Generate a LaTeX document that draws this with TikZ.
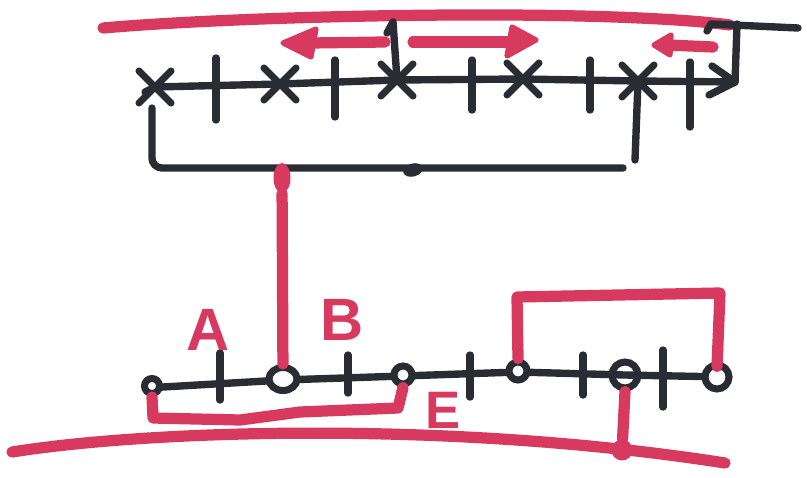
\documentclass[tikz,border=0pt]{standalone}
\usepackage{fontspec}
\setmainfont{Liberation Sans}
\usetikzlibrary{shapes.misc,shapes.geometric}
\definecolor{SKRed}{HTML}{D8395E}
\definecolor{SKInk}{HTML}{2A2C33}

\begin{document}
\begin{tikzpicture}[x=0.2mm,y=-0.2mm,
  ink/.style={draw=SKInk,line width=4.2pt,line cap=round,line join=round},
  pen/.style={draw=SKRed,line width=6.4pt,line cap=round,line join=round},
  head/.style={fill=SKRed,draw=SKRed,line width=3pt,line join=round},
  xmark/.style={draw=SKInk,cross out,line width=4pt,line cap=round,minimum size=5mm,inner sep=0pt},
  ring/.style={draw=SKInk,circle,line width=4pt,fill=white,inner sep=0pt},
  blob/.style={fill=SKRed,ellipse,inner sep=0pt,minimum width=3.4mm,minimum height=6mm},
  inkdot/.style={fill=SKInk,ellipse,inner sep=0pt,minimum width=4mm,minimum height=2.6mm,rotate=15},
  reddot/.style={fill=SKRed,circle,inner sep=0pt,minimum size=4.2mm},
  lbl/.style={text=SKRed,font=\fontsize{34}{34}\selectfont\bfseries,inner sep=0pt}]
\path[use as bounding box] (0,0) rectangle (807,477);
\draw[pen] (103,28) .. controls (250,15) and (600,8) .. (730,25);
\draw[pen] (12,452) .. controls (150,430) and (450,420) .. (725,463);
\coordinate (tip) at (735,82);
\coordinate (bl) at (152,108);
\coordinate (br) at (623,168);
\coordinate (bd) at (635,160);
\node[xmark] (x1) at (155,87) {};
\node[xmark] (x2) at (280,84) {};
\node[xmark] (x3) at (397,80) {};
\node[xmark] (x4) at (523,79) {};
\node[xmark] (x5) at (638,81) {};
\draw[ink] (145,92) -- (x1.center) -- (x2.center) -- (x3.center) -- (x4.center) -- (x5.center) -- (tip);
\draw[ink] (712,66) -- (tip) -- (709,95);
\draw[ink] (707,31) -- (711,24) -- (798,28);
\draw[ink] (737,24) -- (tip);
\draw[ink] (387,33) -- (393,22) -- (x3.center);
\foreach \x/\a/\b in {216/58/120,335/60/117,472/60/110,590/60/110,690/62/127}
  \draw[ink] (\x,\a) -- (\x,\b);
\draw[ink,rounded corners=2mm] (bl) |- (br);
\draw[ink] (x5.center) -- (bd);
\node[inkdot] (m) at (413,170) {};
\node[blob] (b) at (282,178) {};
\coordinate (l1) at (385,42);
\coordinate (l2) at (283,43);
\coordinate (r1) at (413,42);
\coordinate (r2) at (536,40);
\coordinate (s1) at (713,47);
\coordinate (s2) at (654,45);
\draw[pen] (l1) -- (310,43);
\draw[head] (l2) -- (316,29) -- (311,57) -- cycle;
\draw[pen] (r1) -- (512,42);
\draw[head] (r2) -- (512,27) -- (507,56) -- cycle;
\draw[pen] (s1) -- (668,45);
\draw[head] (s2) -- (671,35) -- (670,55) -- cycle;
\draw[ink] (146,388) -- (283,380) -- (403,376) -- (518,372) -- (625,375) -- (726,377);
\foreach \x/\a/\b in {220/353/400,348/355/393,470/355/397,583/355/395,663/350/407}
  \draw[ink] (\x,\a) -- (\x,\b);
\node[ring,minimum size=3mm] (c1) at (152,386) {};
\node[ring,ellipse,minimum width=5.6mm,minimum height=4.6mm] (c2) at (283,379) {};
\node[ring,minimum size=3.6mm] (c3) at (403,375) {};
\node[ring,minimum size=3.6mm] (c4) at (518,371) {};
\node[ring,minimum size=5.2mm,fill=none] (c5) at (625,375) {};
\node[ring,minimum size=4.8mm] (c6) at (717,377) {};
\draw[pen] (b) -- (c2);
\draw[pen] (c1.south) -- (153,418) -- (240,420) -- (300,412) -- (398,408) -- (c3.south);
\draw[pen] (c4.north) -- (517,297) -- (720,293) -- ([yshift=-1mm]c6.north);
\node[reddot] (d) at (622,450) {};
\draw[pen] (c5.south) -- (d);
\node[lbl] (A) at (208,330) {A};
\node[lbl] (B) at (342,320) {B};
\node[lbl,font=\fontsize{30}{30}\selectfont\bfseries] (E) at (443,410) {E};
\end{tikzpicture}
\end{document}
